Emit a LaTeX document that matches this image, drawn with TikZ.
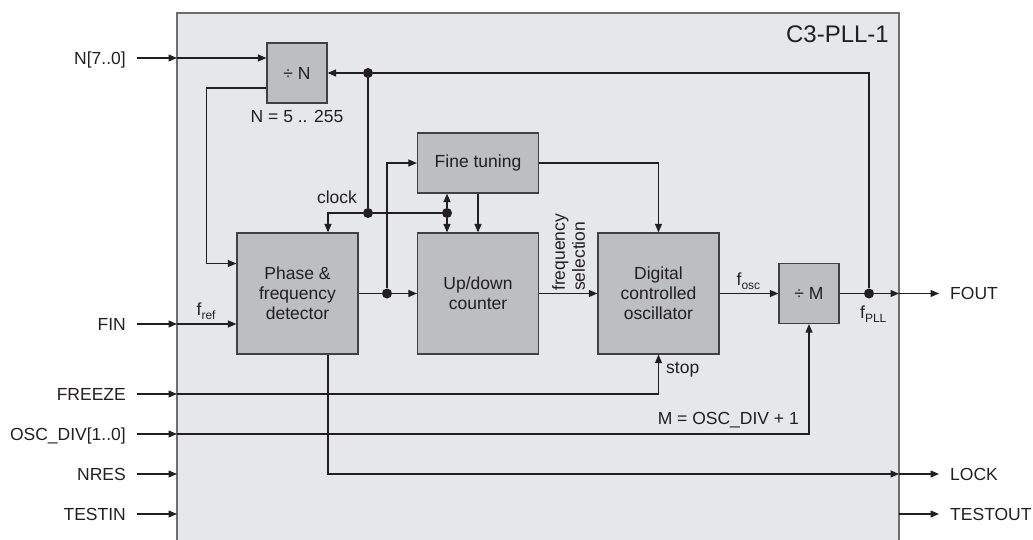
\documentclass[tikz,border=0pt]{standalone}
\usepackage{fontspec}
\setmainfont{Liberation Sans}
\usetikzlibrary{arrows.meta}
\definecolor{outerfill}{HTML}{E6E7E8}
\definecolor{outerline}{HTML}{6D6E71}
\definecolor{blkfill}{HTML}{BCBEC0}
\definecolor{blkline}{HTML}{414042}
\definecolor{ink}{HTML}{231F20}
\newcommand{\lblfont}{\fontsize{17.5}{20}\selectfont}
\newcommand{\ttlfont}{\fontsize{24}{28}\selectfont}
\newcommand{\fsub}[1]{f\raisebox{-4.5pt}{\fontsize{12}{12}\selectfont #1}}
\tikzset{
  blk/.style={draw=blkline, fill=blkfill, line width=1.2pt, align=center, font=\lblfont, text=ink, inner sep=0pt},
  wire/.style={draw=ink, line width=1.15pt},
  arr/.style={wire, -{Triangle[length=8.5pt,width=7pt]}},
  dotnode/.style={circle, fill=ink, inner sep=0pt, minimum size=10pt},
  txt/.style={font=\lblfont, text=ink, inner sep=0pt}
}
\begin{document}
\begin{tikzpicture}[x=1pt,y=-1pt]
\useasboundingbox (0,0) rectangle (1033,540);
% outer module
\fill[outerfill] (177,13) rectangle (899,545);
\draw[outerline, line width=1.3pt] (177,545) -- (177,13) -- (899,13) -- (899,545);
\node[txt, font=\ttlfont, anchor=base east] (title) at (889,43) {C3-PLL-1};

% blocks
\node[blk, minimum width=60pt, minimum height=60pt] (divN) at (297,73) {÷ N};
\node[blk, minimum width=121pt, minimum height=121pt] (pfd) at (297.5,293.5) {Phase \&\\frequency\\detector};
\node[blk, minimum width=121pt, minimum height=60pt] (ft) at (478,163) {Fine tuning};
\node[blk, minimum width=121pt, minimum height=121pt] (ud) at (478,293.5) {Up/down\\counter};
\node[blk, minimum width=121pt, minimum height=121pt] (dco) at (658.5,293.5) {Digital\\controlled\\oscillator};
\node[blk, minimum width=60pt, minimum height=60pt] (divM) at (809,293.5) {÷ M};

% junction dots
\node[dotnode] (dA) at (368,73) {};
\node[dotnode] (dClk) at (368,213) {};
\node[dotnode] (dFT) at (447,213) {};
\node[dotnode] (dPD) at (387,293.5) {};
\node[dotnode] (dPLL) at (869,293.5) {};

% border points and stub ends
\coordinate (bN) at (177,58);
\coordinate (bFIN) at (177,324);
\coordinate (bFRZ) at (177,394);
\coordinate (bOSC) at (177,434);
\coordinate (bNRES) at (177,474);
\coordinate (bTIN) at (177,514);
\coordinate (sN) at (137,58);
\coordinate (sFIN) at (137,324);
\coordinate (sFRZ) at (137,394);
\coordinate (sOSC) at (137,434);
\coordinate (sNRES) at (137,474);
\coordinate (sTIN) at (137,514);
\coordinate (bFOUT) at (899,293.5);
\coordinate (bLOCK) at (899,474);
\coordinate (bTOUT) at (899,514);
\coordinate (eFOUT) at (939,293.5);
\coordinate (eLOCK) at (939,474);
\coordinate (eTOUT) at (939,514);

% pin labels
\node[txt, anchor=base east] (lN) at (126,64.2) {N[7..0]};
\node[txt, anchor=base east] (lFIN) at (126,330.2) {FIN};
\node[txt, anchor=base east] (lFRZ) at (126,400.2) {FREEZE};
\node[txt, anchor=base east] (lOSC) at (126,440.2) {OSC\_DIV[1..0]};
\node[txt, anchor=base east] (lNRES) at (126,480.2) {NRES};
\node[txt, anchor=base east] (lTIN) at (126,520.2) {TESTIN};
\node[txt, anchor=base west] (lFOUT) at (950,299.7) {FOUT};
\node[txt, anchor=base west] (lLOCK) at (950,480.2) {LOCK};
\node[txt, anchor=base west] (lTOUT) at (950,520.2) {TESTOUT};

% inner labels
\node[txt, anchor=base] (lNrange) at (297,123) {N = 5 .. 255};
\node[txt, anchor=base] (lclk) at (337,204) {clock};
\node[txt, anchor=base west] (lref) at (196.5,315) {\fsub{ref}};
\node[txt, anchor=base west] (losc) at (736.5,285) {\fsub{osc}};
\node[txt, anchor=base west] (lpll) at (860,318) {\fsub{PLL}};
\node[txt, anchor=base west] (lstop) at (666,373) {stop};
\node[txt, anchor=base east] (lM) at (799,424) {M = OSC\_DIV + 1};
\node[txt, rotate=90, anchor=north west, align=left] (lfs) at (552,291) {frequency\\selection};

% connectors
\draw[arr] (sN) -- (bN);
\draw[arr] (bN) -- (divN.west |- bN);
\draw[arr] (dA) -- (divN.east);
\draw[wire] (dPLL) |- (dA);
\draw[wire] (dA) -- (dClk);
\draw[arr] (dClk) -| ([xshift=30.5pt]pfd.north);
\draw[wire] (dClk) -- (dFT);
\draw[arr] (dFT) -- (dFT |- ft.south);
\draw[arr] (dFT) -- (dFT |- ud.north);
\draw[arr] (ft.south) -- (ud.north);
\draw[arr] ([yshift=-15pt]divN.west) -- ++(-60,0) |- ([yshift=30pt]pfd.west);
\draw[arr] (sFIN) -- (bFIN);
\draw[arr] (bFIN) -- (bFIN -| pfd.west);
\draw[wire] (pfd.east) -- (dPD);
\draw[arr] (dPD) -- (ud.west);
\draw[arr] (dPD) |- (ft.west);
\draw[arr] (ud.east) -- (dco.west);
\draw[arr] (ft.east) -| (dco.north);
\draw[arr] (dco.east) -- (divM.west);
\draw[wire] (divM.east) -- (dPLL);
\draw[arr] (dPLL) -- (bFOUT);
\draw[arr] (bFOUT) -- (eFOUT);
\draw[arr] (sFRZ) -- (bFRZ);
\draw[arr] (bFRZ) -| (dco.south);
\draw[arr] (sOSC) -- (bOSC);
\draw[arr] (bOSC) -| (divM.south);
\draw[arr] ([xshift=30.5pt]pfd.south) |- (bLOCK);
\draw[arr] (bLOCK) -- (eLOCK);
\draw[arr] (sNRES) -- (bNRES);
\draw[arr] (sTIN) -- (bTIN);
\draw[arr] (bTOUT) -- (eTOUT);
\end{tikzpicture}
\end{document}
